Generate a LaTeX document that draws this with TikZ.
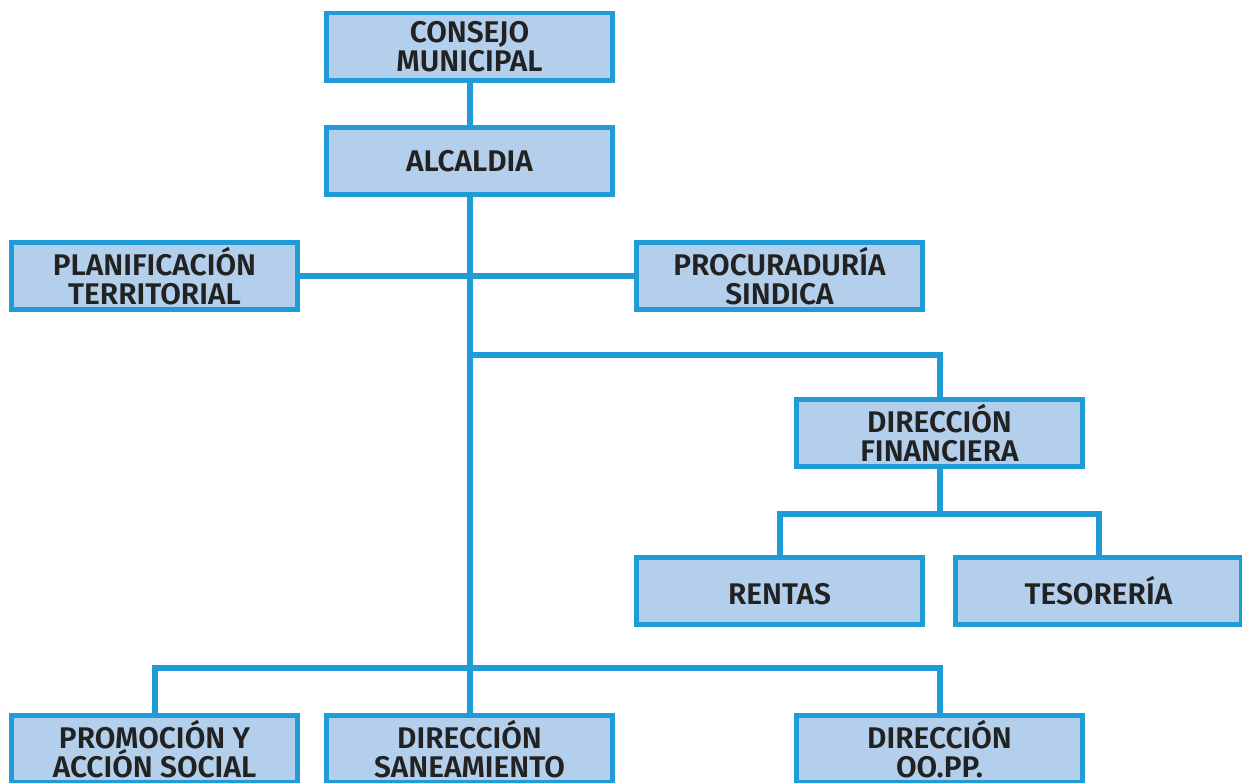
\documentclass[tikz,border=0pt]{standalone}
\usepackage{fontspec}
\setmainfont{Fira Sans}[BoldFont={Fira Sans SemiBold}]
\usetikzlibrary{positioning}
\definecolor{linea}{HTML}{1F9BD7}
\definecolor{relleno}{HTML}{B3CFEC}
\definecolor{texto}{HTML}{222222}
\tikzset{
  unidad/.style={draw=linea, fill=relleno, line width=0.1cm,
    minimum width=5.72cm, minimum height=1.36cm, inner sep=0pt,
    align=center, text=texto, font=\fontsize{17}{16.5}\selectfont\bfseries},
  enlace/.style={draw=linea, line width=0.12cm}
}
\begin{document}
\begin{tikzpicture}[x=0.02cm, y=-0.02cm]
        \useasboundingbox (0,0) rectangle (1242,783);
        % cargos superiores
        \node[unidad] (consejo) at (469.5,47) {CONSEJO\\MUNICIPAL};
        \node[unidad] (alcaldia) at (469.5,161) {ALCALDIA};
        \node[unidad] (planif) at (154.5,276) {PLANIFICACIÓN\\TERRITORIAL};
        \node[unidad] (procur) at (779.5,276) {PROCURADURÍA\\SINDICA};
        % direcciones
        \node[unidad] (dirfin) at (939.5,433) {DIRECCIÓN\\FINANCIERA};
        \node[unidad] (rentas) at (779.5,591) {RENTAS\vphantom{Í}};
        \node[unidad] (tesor) at (1098.5,591) {TESORERÍA};
        \node[unidad] (promo) at (154.5,749) {PROMOCIÓN Y\\ACCIÓN SOCIAL};
        \node[unidad] (sanea) at (469.5,749) {DIRECCIÓN\\SANEAMIENTO};
        \node[unidad] (oopp) at (939.5,749) {DIRECCIÓN\\OO.PP.};
        % puntos de union
        \coordinate (ja) at (469.5,355);
        \coordinate (jb) at (469.5,668);
        \coordinate (jf) at (939.5,514);
        % lineas
        \draw[enlace] (consejo) -- (alcaldia);
        \draw[enlace] (alcaldia.south) -- (jb);
        \draw[enlace] (planif.east) -- (procur.west);
        \draw[enlace] (ja) -| (dirfin.north);
        \draw[enlace] (dirfin.south) -- (jf);
        \draw[enlace] (rentas.north) |- (jf) -| (tesor.north);
        \draw[enlace] (promo.north) |- (jb) -| (oopp.north);
        \draw[enlace] (jb) -- (sanea.north);
\end{tikzpicture}
\end{document}
